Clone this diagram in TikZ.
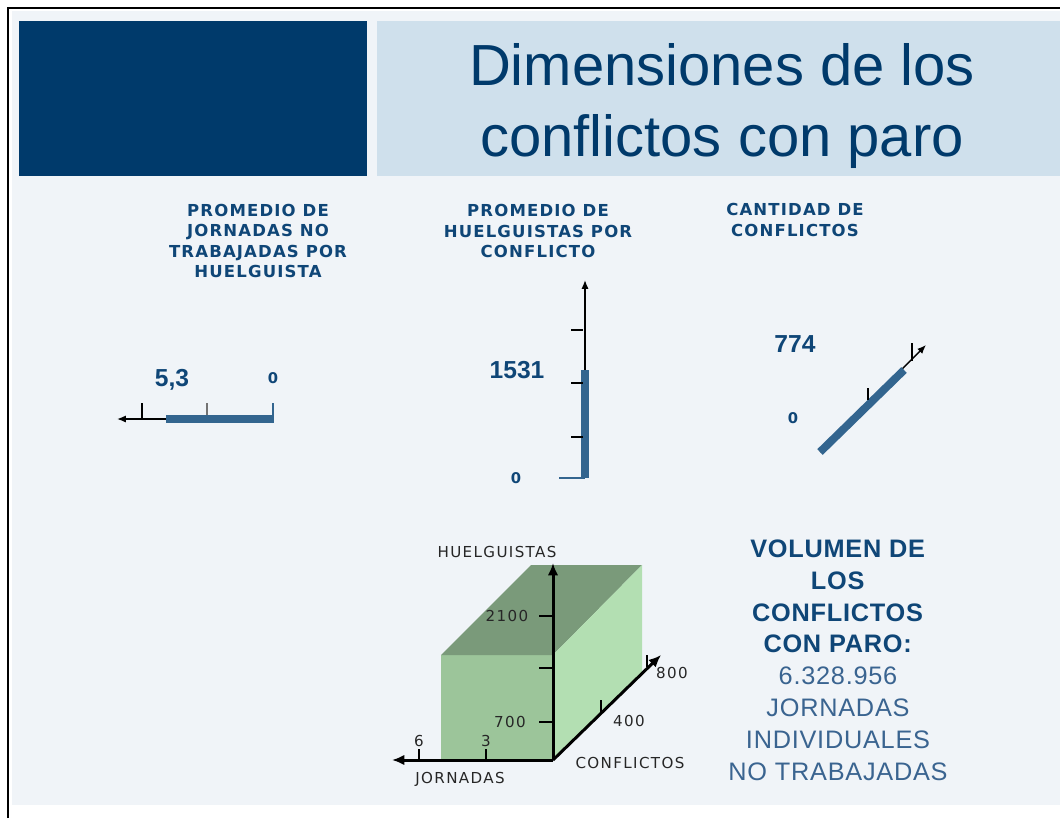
\documentclass[tikz,border=0pt]{standalone}
\usepackage{fontspec}
\setmainfont{Liberation Sans}
\newfontfamily\verdfont[LetterSpace=7]{DejaVu Sans}
\newfontfamily\axisfont[LetterSpace=9]{DejaVu Sans}
\newfontfamily\volfont[LetterSpace=3]{Liberation Sans}
\usetikzlibrary{arrows.meta}

\definecolor{slidebg}{HTML}{F0F4F8}
\definecolor{headdark}{HTML}{003A6B}
\definecolor{headlight}{HTML}{CFE0EC}
\definecolor{labelblue}{HTML}{0F4677}
\definecolor{softblue}{HTML}{3A6490}
\definecolor{barblue}{HTML}{33658F}
\definecolor{greenfront}{HTML}{9CC59A}
\definecolor{greentop}{HTML}{7A9A7A}
\definecolor{greenside}{HTML}{B3DFB2}

\tikzset{
  panellabel/.style={font=\verdfont\bfseries\fontsize{9.4}{11.7}\selectfont, text=labelblue, align=center, inner sep=0},
  bignum/.style={font=\bfseries\fontsize{14}{16}\selectfont, text=labelblue, inner sep=0},
  zeronum/.style={font=\verdfont\bfseries\fontsize{8.4}{10}\selectfont, text=labelblue, inner sep=0},
  boxlabel/.style={font=\axisfont\fontsize{8.6}{10}\selectfont, text=black!85, inner sep=0},
  axisline/.style={line width=0.8pt, -{Latex[length=5pt,width=4pt]}},
  barline/.style={line width=4.5pt, draw=barblue},
  tickline/.style={line width=0.7pt},
  boxaxis/.style={line width=1.7pt, -{Latex[length=7pt,width=6pt]}},
}

\begin{document}
\begin{tikzpicture}[x=0.02cm,y=-0.02cm]
  \useasboundingbox (0,0) rectangle (1060,818);
  % slide and header
  \fill[slidebg] (12,11) rectangle (1060,805);
  \draw[line width=1.2pt] (8,818) -- (8,8) -- (1060,8);
  \fill[headdark] (19,21) rectangle (367,176);
  \fill[headlight] (377,21) rectangle (1060,176);
  \node[font=\fontsize{33}{40.5}\selectfont, text=headdark, align=center, inner sep=0] (title) at (722,106)
    {Dimensiones de los\\conflictos con paro};

  % panel titles
  \node[panellabel] (lblJornadas) at (258,241) {PROMEDIO DE\\JORNADAS NO\\TRABAJADAS POR\\HUELGUISTA};
  \node[panellabel] (lblHuelguistas) at (538,231) {PROMEDIO DE\\HUELGUISTAS POR\\CONFLICTO};
  \node[panellabel] (lblConflictos) at (795,220) {CANTIDAD DE\\CONFLICTOS};

  % jornadas
  \begin{scope}
    \coordinate (jzero) at (273,419);
    \coordinate (jbar) at (166,419);
    \coordinate (jend) at (117,419);
    \draw[axisline] (jzero) -- (jend);
    \draw[barline] (jzero) -- (jbar);
    \draw[tickline] (142,419) -- (142,403);
    \draw[tickline, draw=black!55] (207,415) -- (207,403);
    \draw[line width=1pt, draw=barblue] (273,423) -- (273,403);
    \node[bignum] (jval) at (172,380) {5,3};
    \node[zeronum] (jzerolbl) at (273,378) {0};
  \end{scope}

  % huelguistas
  \begin{scope}
    \coordinate (hzero) at (585,478);
    \coordinate (hbar) at (585,370);
    \coordinate (hend) at (585,280);
    \draw[axisline] (hzero) -- (hend);
    \draw[barline] (hzero) -- (hbar);
    \draw[line width=1pt, draw=barblue] (559,478) -- (hzero);
    \foreach \ty in {330,383,437}
      \draw[tickline] (571,\ty) -- (583,\ty);
    \node[bignum] (hval) at (517,370) {1531};
    \node[zeronum] (hzerolbl) at (516,478) {0};
  \end{scope}

  % conflictos
  \begin{scope}
    \coordinate (czero) at (820,452);
    \coordinate (cbar) at (904,370);
    \coordinate (cend) at (926,345);
    \draw[axisline] (czero) -- (cend);
    \draw[barline, line cap=butt] (czero) -- (cbar);
    \draw[tickline] (868,400) -- (868,388);
    \draw[tickline] (912,361) -- (912,343);
    \node[bignum] (cval) at (795,344) {774};
    \node[zeronum] (czerolbl) at (793,418) {0};
  \end{scope}

  % volumen
  \fill[greenfront] (441,655) rectangle (553,760);
  \fill[greentop] (441,655) -- (553,655) -- (642,565) -- (531,565) -- cycle;
  \fill[greenside] (553,655) -- (642,565) -- (642,673) -- (553,760) -- cycle;
  \coordinate (vorig) at (553,760);
  \coordinate (vup) at (553,563);
  \coordinate (vleft) at (392,760);
  \coordinate (vdiag) at (661,655);
  \draw[boxaxis] (vorig) -- (vup);
  \draw[boxaxis] (vorig) -- (vleft);
  \draw[boxaxis] (vorig) -- (vdiag);
  \foreach \ty in {616,668,722}
    \draw[line width=1pt] (539,\ty) -- (553,\ty);
  \foreach \tx in {419,486}
    \draw[line width=1pt] (\tx,749) -- (\tx,760);
  \draw[line width=1pt] (601,713) -- (601,700);
  \draw[line width=1pt] (647,667) -- (647,655);
  \node[boxlabel] (yaxis) at (497,552) {HUELGUISTAS};
  \node[boxlabel] (y2100) at (507,616) {2100};
  \node[boxlabel] (y700) at (510,722) {700};
  \node[boxlabel] (x6) at (419,741) {6};
  \node[boxlabel] (x3) at (486,741) {3};
  \node[boxlabel] (xaxis) at (460,779) {JORNADAS};
  \node[boxlabel] (z800) at (672,673) {800};
  \node[boxlabel] (z400) at (629,721) {400};
  \node[boxlabel] (zaxis) at (630,763) {CONFLICTOS};

  \node[align=center, inner sep=0, font=\volfont\fontsize{14.4}{18.1}\selectfont, text=labelblue] (volumen) at (838,660)
    {\textbf{VOLUMEN DE}\\\textbf{LOS}\\\textbf{CONFLICTOS}\\\textbf{CON PARO:}\\
     \color{softblue}6.328.956\\\color{softblue}JORNADAS\\\color{softblue}INDIVIDUALES\\\color{softblue}NO TRABAJADAS};
\end{tikzpicture}
\end{document}
